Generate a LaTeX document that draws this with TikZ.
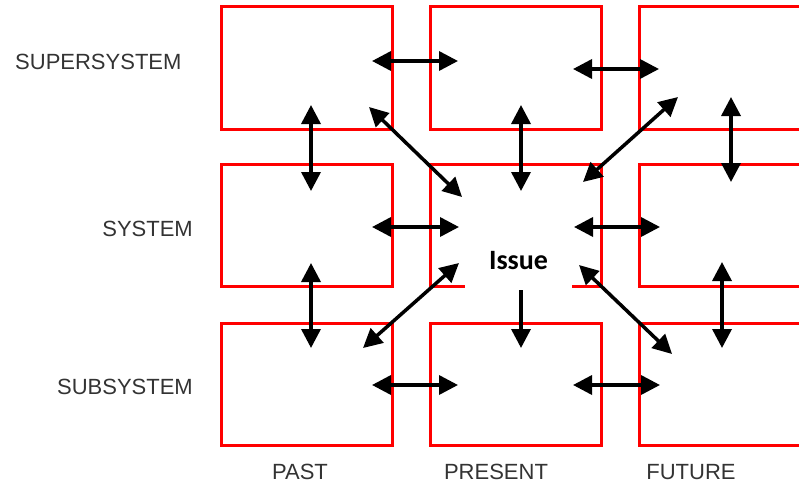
\documentclass[tikz,border=0pt]{standalone}
\usepackage{fontspec}
\setmainfont{Liberation Sans}
\newfontfamily\issuefont{Carlito}
\usetikzlibrary{arrows.meta}

\tikzset{
  cell/.style={draw=red, line width=3pt, minimum width=171pt, minimum height=122pt, inner sep=0pt},
  lab/.style={text=black!80, font=\fontsize{22}{26}\selectfont, inner sep=0pt},
  link/.style={line width=3.5pt, black},
}

\begin{document}
\begin{tikzpicture}[x=1pt, y=-1pt, >={Triangle[length=19pt,width=19pt]}]
                \useasboundingbox (0,0) rectangle (799,484);
                \clip (0,0) rectangle (799,484);

                % the nine boxes
                \node[cell] (pastsup) at (306.5,68) {};
                \node[cell] (presup) at (515.5,68) {};
                \node[cell] (futsup) at (724.5,68) {};
                \node[cell] (pastsys) at (306.5,225.5) {};
                \node[cell] (presys) at (515.5,225.5) {};
                \node[cell] (futsys) at (724.5,225.5) {};
                \node[cell] (pastsub) at (306.5,384.5) {};
                \node[cell] (presub) at (515.5,384.5) {};
                \node[cell] (futsub) at (724.5,384.5) {};

                \node[fill=white, minimum width=107pt, minimum height=58pt, font=\issuefont\bfseries\fontsize{28}{32}\selectfont] (issue) at (518.5,261) {Issue};

                % row and column labels
                \node[lab, anchor=west] (sup) at (15,62) {SUPERSYSTEM};
                \node[lab, anchor=east] (sys) at (193,229) {SYSTEM};
                \node[lab, anchor=east] (sub) at (193,387) {SUBSYSTEM};
                \node[lab] (past) at (300,472) {PAST};
                \node[lab] (pres) at (496,472) {PRESENT};
                \node[lab] (fut) at (691,472) {FUTURE};

                % arrow ends
                \coordinate (h1a) at (372,61); \coordinate (h1b) at (458,61); \coordinate (h2a) at (573,69); \coordinate (h2b) at (659,69);
                \coordinate (h3a) at (372,227); \coordinate (h3b) at (459,227); \coordinate (h4a) at (574,227); \coordinate (h4b) at (660,227);
                \coordinate (h5a) at (372,385); \coordinate (h5b) at (458,385); \coordinate (h6a) at (573,385); \coordinate (h6b) at (660,385);
                \coordinate (v1a) at (311,105); \coordinate (v1b) at (311,191); \coordinate (v2a) at (521,105); \coordinate (v2b) at (521,191);
                \coordinate (v3a) at (731,97); \coordinate (v3b) at (731,182); \coordinate (v4a) at (311,263); \coordinate (v4b) at (311,348);
                \coordinate (v5a) at (521,290); \coordinate (v5b) at (521,348); \coordinate (v6a) at (722,262); \coordinate (v6b) at (722,348);
                \coordinate (d1a) at (369,107); \coordinate (d1b) at (462,197); \coordinate (d2a) at (678,97); \coordinate (d2b) at (583,182);
                \coordinate (d3a) at (459,263); \coordinate (d3b) at (363,348); \coordinate (d4a) at (579,265); \coordinate (d4b) at (672,354);

                \draw[link,<->] (h1a) to (h1b); \draw[link,<->] (h2a) to (h2b); \draw[link,<->] (h3a) to (h3b);
                \draw[link,<->] (h4a) to (h4b); \draw[link,<->] (h5a) to (h5b); \draw[link,<->] (h6a) to (h6b);
                \draw[link,<->] (v1a) to (v1b); \draw[link,<->] (v2a) to (v2b); \draw[link,<->] (v3a) to (v3b);
                \draw[link,<->] (v4a) to (v4b); \draw[link,->] (v5a) to (v5b); \draw[link,<->] (v6a) to (v6b);
                \draw[link,<->] (d1a) to (d1b); \draw[link,<->] (d2a) to (d2b); \draw[link,<->] (d3a) to (d3b); \draw[link,<->] (d4a) to (d4b);
            \end{tikzpicture}
\end{document}
